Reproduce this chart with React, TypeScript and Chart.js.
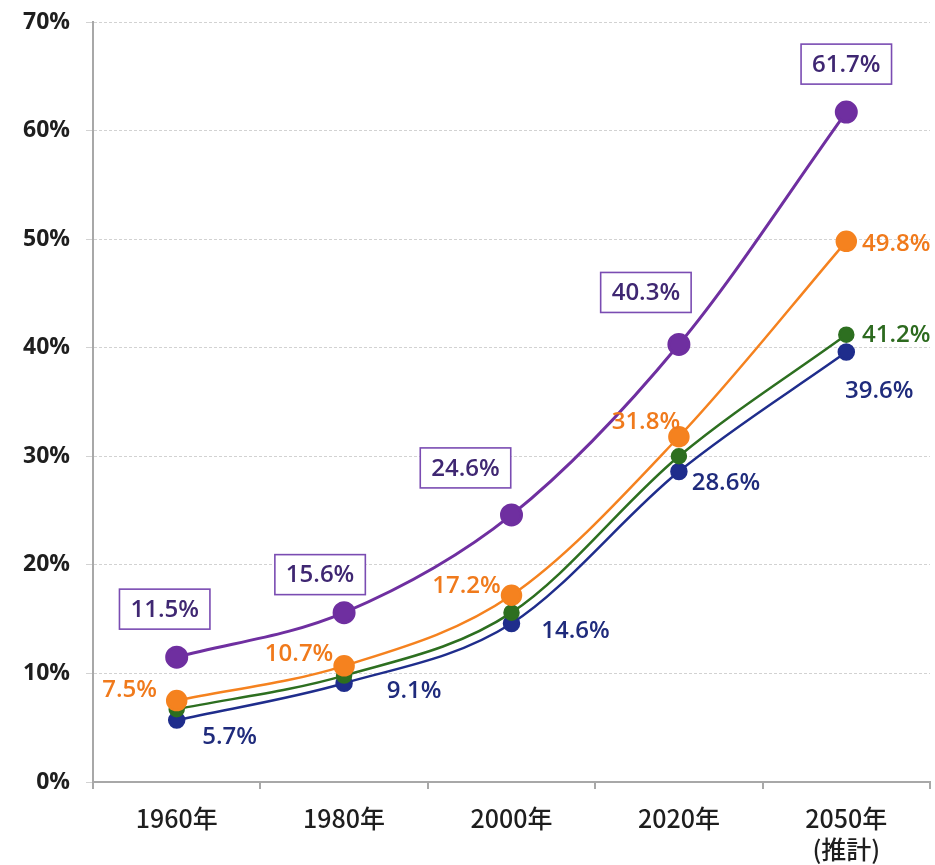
import { useEffect, useRef } from 'react';
import { Chart, registerables } from 'chart.js';

Chart.register(...registerables);

// Categories and series values (%)
const years: (string | string[])[] = ['1960年', '1980年', '2000年', '2020年', ['2050年', '(推計)']];
const purpleValues = [11.5, 15.6, 24.6, 40.3, 61.7];
const orangeValues = [7.5, 10.7, 17.2, 31.8, 49.8];
const greenValues = [6.7, 9.8, 15.6, 30.0, 41.2];
const blueValues = [5.7, 9.1, 14.6, 28.6, 39.6];
const yTickValues = [0, 10, 20, 30, 40, 50, 60, 70];

// Which values get a printed label
const purpleShown = [true, true, true, true, true];
const orangeShown = [true, true, true, true, true];
const greenShown = [false, false, false, false, true];
const blueShown = [true, true, true, true, true];

// Label placement relative to each point [dx, dy]
const purpleOffsets = [[-12, -48], [-24, -38], [-46, -47], [-33, -52], [0, -48]];
const orangeOffsets = [[-47, -11], [-45, -13], [-45, -10], [-33, -16], [50, 2]];
const greenOffsets = [[0, 0], [0, 0], [0, 0], [0, 0], [50, -1]];
const blueOffsets = [[53, 16], [70, 7], [64, 7], [47, 11], [33, 38]];

const LABEL_FONT = '600 24px "Open Sans", "Noto Sans", sans-serif';

const valueLabels = {
  id: 'valueLabels',
  afterDatasetsDraw(chart: any) {
    const ctx = chart.ctx as CanvasRenderingContext2D;
    chart.data.datasets.forEach((ds: any, di: number) => {
      const meta = chart.getDatasetMeta(di);
      meta.data.forEach((pt: any, i: number) => {
        if (!ds.labelShown[i]) return;
        const [dx, dy] = ds.labelOffsets[i];
        const x = pt.x + dx;
        const y = pt.y + dy;
        const text = Number(ds.data[i]).toFixed(1) + '%';
        ctx.save();
        ctx.font = LABEL_FONT;
        ctx.textAlign = 'center';
        ctx.textBaseline = 'middle';
        if (ds.labelBox) {
          const w = ctx.measureText(text).width + 22;
          const h = 40;
          ctx.fillStyle = '#ffffff';
          ctx.fillRect(x - w / 2, y - h / 2, w, h);
          ctx.strokeStyle = ds.labelBox;
          ctx.lineWidth = 1.6;
          ctx.strokeRect(x - w / 2, y - h / 2, w, h);
        }
        ctx.fillStyle = ds.labelColor;
        ctx.fillText(text, x, y + 1);
        ctx.restore();
      });
    });
  },
};

function series(
  values: number[],
  color: string,
  radius: number,
  width: number,
  labelColor: string,
  offsets: number[][],
  shown: boolean[],
  box?: string
) {
  return {
    data: values,
    borderColor: color,
    backgroundColor: color,
    pointBackgroundColor: color,
    pointBorderColor: color,
    pointRadius: radius,
    pointHoverRadius: radius,
    borderWidth: width,
    cubicInterpolationMode: 'monotone',
    fill: false,
    labelColor,
    labelOffsets: offsets,
    labelShown: shown,
    labelBox: box,
  } as any;
}

export default function App() {
  const canvasRef = useRef<HTMLCanvasElement | null>(null);

  useEffect(() => {
    if (!canvasRef.current) return;
    const chart = new Chart(canvasRef.current, {
      type: 'line',
      data: {
        labels: years as any,
        datasets: [
          series(purpleValues, '#6f2fa0', 10, 3, '#3f2772', purpleOffsets, purpleShown, '#7a4cb2'),
          series(orangeValues, '#f5821f', 9.5, 2.5, '#f07a1c', orangeOffsets, orangeShown),
          series(greenValues, '#2d6f20', 7, 2.5, '#2d6a1f', greenOffsets, greenShown),
          series(blueValues, '#1f2d8c', 7.5, 2.5, '#1f2b7c', blueOffsets, blueShown),
        ],
      },
      options: {
        animation: false,
        responsive: true,
        maintainAspectRatio: false,
        layout: { autoPadding: false, padding: { top: 22, right: 5, bottom: 0, left: 0 } },
        plugins: {
          legend: { display: false },
          tooltip: { enabled: false },
        },
        scales: {
          x: {
            type: 'category',
            offset: true,
            grid: {
              offset: true,
              drawOnChartArea: false,
              drawTicks: true,
              tickLength: 7,
              color: '#a8a8a8',
              lineWidth: 2,
            },
            border: { display: true, color: '#a8a8a8', width: 2 },
            ticks: {
              color: '#1e1e1e',
              padding: 14,
              font: { family: '"Noto Sans CJK JP", sans-serif', size: 25, weight: '500', lineHeight: 1.25 },
              maxRotation: 0,
              autoSkip: false,
            },
            afterFit(scale: any) {
              scale.height = 83;
            },
          },
          y: {
            min: 0,
            max: 70,
            afterBuildTicks(scale: any) {
              scale.ticks = yTickValues.map((v) => ({ value: v }));
            },
            grid: {
              color: '#d2d2d2',
              lineWidth: 1,
              tickLength: 7,
            },
            border: { display: true, color: '#a8a8a8', width: 2, dash: [3, 2] },
            ticks: {
              color: '#1e1e1e',
              padding: 16,
              font: { family: '"Open Sans", sans-serif', size: 23, weight: '700' },
              callback: (v: any) => `${v}%`,
            },
            afterFit(scale: any) {
              scale.width = 93;
              scale.paddingTop = 0;
              scale.paddingBottom = 0;
            },
          },
        },
      } as any,
      plugins: [valueLabels],
    });
    return () => chart.destroy();
  }, []);

  return (
    <div style={{ position: 'fixed', left: 0, top: 0, width: 935, height: 865, background: '#ffffff' }}>
      <canvas ref={canvasRef} />
    </div>
  );
}
